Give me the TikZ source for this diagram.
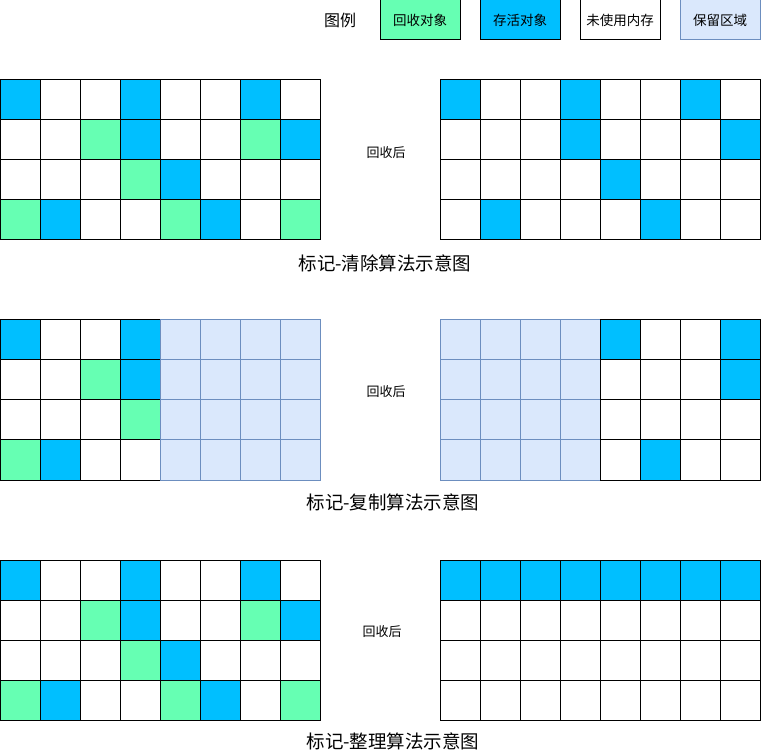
\documentclass[tikz,border=0pt]{standalone}
\usepackage{fontspec}
\setmainfont{Noto Sans CJK SC}
\usetikzlibrary{positioning}

\definecolor{liveblue}{HTML}{00BFFF}
\definecolor{freedgreen}{HTML}{66FFB3}
\definecolor{resvfill}{HTML}{DAE8FC}
\definecolor{resvline}{HTML}{6C8EBF}

\tikzset{
  cell/.style={minimum width=40pt, minimum height=40pt, inner sep=0pt, outer sep=0pt, line width=1pt},
  cG/.style={draw=black, fill=freedgreen},
  cB/.style={draw=black, fill=liveblue},
  cW/.style={draw=black, fill=white},
  cR/.style={draw=resvline, fill=resvfill},
  legbox/.style={cell, minimum width=80pt, font=\fontsize{13.5}{15}\selectfont},
  caption/.style={font=\fontsize{18.5}{20}\selectfont},
  after/.style={font=\fontsize{13}{15}\selectfont}
}

\begin{document}
\begin{tikzpicture}[x=1pt,y=-1pt]
\useasboundingbox (0,0) rectangle (761,751);

% legend
\node[font=\fontsize{16}{18}\selectfont] (legtitle) at (340,20) {图例};
\node[legbox, cG] (legG) at (420,20) {回收对象};
\node[legbox, cB] (legB) at (520,20) {存活对象};
\node[legbox, cW] (legW) at (620,20) {未使用内存};
\node[legbox, cR] (legR) at (720,20) {保留区域};

% mark-sweep
\foreach \r/\row in {0/{B,W,W,B,W,W,B,W}, 1/{W,W,G,B,W,W,G,B}, 2/{W,W,W,G,B,W,W,W}, 3/{G,B,W,W,G,B,W,G}}
  \foreach \s [count=\c from 0] in \row
    \node[cell, c\s] (sa-\r-\c) at (20+40*\c, 100+40*\r) {};
\foreach \r/\row in {0/{B,W,W,B,W,W,B,W}, 1/{W,W,W,B,W,W,W,B}, 2/{W,W,W,W,B,W,W,W}, 3/{W,B,W,W,W,B,W,W}}
  \foreach \s [count=\c from 0] in \row
    \node[cell, c\s] (sb-\r-\c) at (460+40*\c, 100+40*\r) {};
\node[after] (after1) at (386,153) {回收后};
\node[caption] (cap1) at (385,263) {标记-清除算法示意图};

% mark-copy
\foreach \r/\row in {0/{B,W,W,B,R,R,R,R}, 1/{W,W,G,B,R,R,R,R}, 2/{W,W,W,G,R,R,R,R}, 3/{G,B,W,W,R,R,R,R}}
  \foreach \s [count=\c from 0] in \row
    \node[cell, c\s] (ca-\r-\c) at (20+40*\c, 340+40*\r) {};
\foreach \r/\row in {0/{R,R,R,R,B,W,W,B}, 1/{R,R,R,R,W,W,W,B}, 2/{R,R,R,R,W,W,W,W}, 3/{R,R,R,R,W,B,W,W}}
  \foreach \s [count=\c from 0] in \row
    \node[cell, c\s] (cb-\r-\c) at (460+40*\c, 340+40*\r) {};
\node[after] (after2) at (386,392) {回收后};
\node[caption] (cap2) at (393,502) {标记-复制算法示意图};

% mark-compact
\foreach \r/\row in {0/{B,W,W,B,W,W,B,W}, 1/{W,W,G,B,W,W,G,B}, 2/{W,W,W,G,B,W,W,W}, 3/{G,B,W,W,G,B,W,G}}
  \foreach \s [count=\c from 0] in \row
    \node[cell, c\s] (ka-\r-\c) at (20+40*\c, 580+40*\r) {};
\foreach \r/\row in {0/{B,B,B,B,B,B,B,B}, 1/{W,W,W,W,W,W,W,W}, 2/{W,W,W,W,W,W,W,W}, 3/{W,W,W,W,W,W,W,W}}
  \foreach \s [count=\c from 0] in \row
    \node[cell, c\s] (kb-\r-\c) at (460+40*\c, 580+40*\r) {};
\node[after] (after3) at (382,632) {回收后};
\node[caption] (cap3) at (393,741) {标记-整理算法示意图};
\end{tikzpicture}
\end{document}
